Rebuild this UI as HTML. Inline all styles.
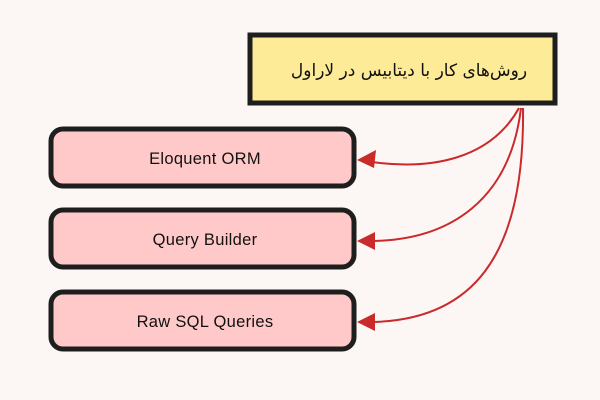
<!DOCTYPE html>
<html><head><meta charset="utf-8"><style>
body{margin:0;width:600px;height:400px;background:#fcf7f5;overflow:hidden}
svg{display:block}
</style></head><body>
<svg width="600" height="400" viewBox="0 0 600 400">
<rect x="0" y="0" width="600" height="400" fill="#fcf7f5"/>
<rect x="250" y="35" width="305" height="68" fill="#fdeb97" stroke="#1e1e1e" stroke-width="5"/>
<text x="409" y="76" text-anchor="middle" font-family="'DejaVu Sans','Liberation Sans',sans-serif" font-size="17" fill="#111" direction="rtl">روش‌های کار با دیتابیس در لاراول</text>
<g fill="#ffc9c9" stroke="#1e1e1e" stroke-width="5">
<rect x="51" y="129" width="303" height="57" rx="12"/>
<rect x="51" y="210" width="303" height="57" rx="12"/>
<rect x="51" y="292" width="303" height="57" rx="12"/>
</g>
<g font-family="'Liberation Sans',sans-serif" font-size="16.5" fill="#111" text-anchor="middle" letter-spacing="0.3">
<text x="205" y="164">Eloquent ORM</text>
<text x="205" y="245">Query Builder</text>
<text x="205" y="327">Raw SQL Queries</text>
</g>
<g fill="none" stroke="#c92a2a" stroke-width="2">
<path d="M519 108 C490 160 430 170 372 162"/>
<path d="M521 108 C510 200 450 240 372 241"/>
<path d="M523 108 C525 260 470 320 372 322"/>
</g>
<g fill="#c92a2a">
<polygon points="357,160 376,150 374,168"/>
<polygon points="357,241 375,232 375,250"/>
<polygon points="357,322 375,313 375,331"/>
</g>
</svg>
</body></html>
